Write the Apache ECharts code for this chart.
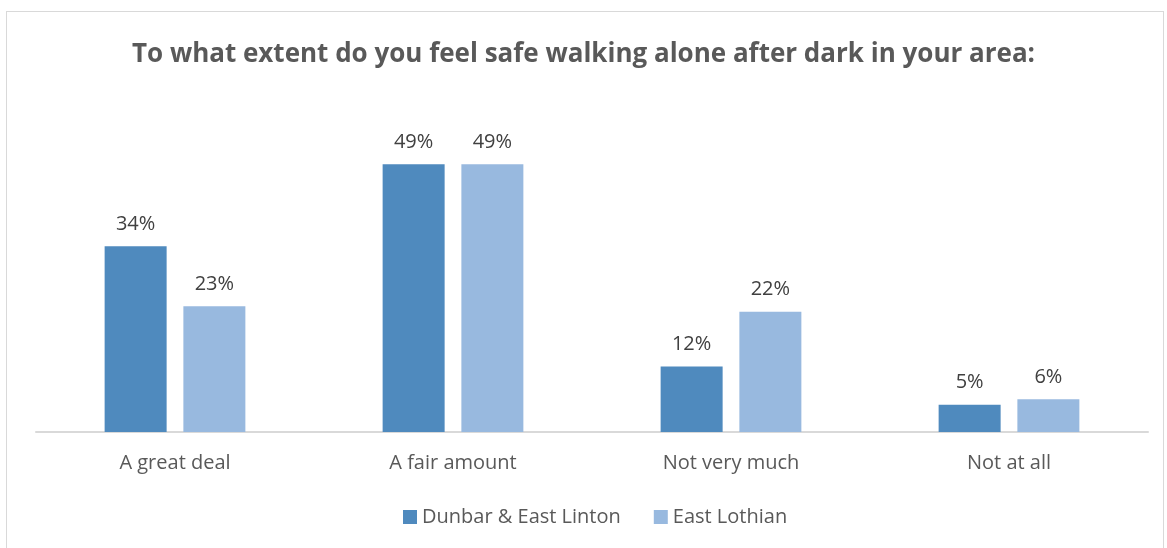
<!DOCTYPE html>
<html>
<head>
<meta charset="utf-8">
<script src="https://cdn.jsdelivr.net/npm/echarts@6/dist/echarts.min.js"></script>
<style>
  html, body { margin: 0; padding: 0; background: #fff; }
  #frame { position: absolute; left: 6px; top: 11px; width: 1158px; height: 560px; border: 1px solid #d9d9d9; box-sizing: border-box; }
  #chart { position: absolute; left: 0; top: 0; width: 1167px; height: 548px; }
</style>
</head>
<body>
<div id="frame"></div>
<div id="chart"></div>
<script>
const categories = ['A great deal', 'A fair amount', 'Not very much', 'Not at all']
const dunbarValues = [34, 49, 12, 5]
const lothianValues = [23, 49, 22, 6]
const seriesNames = ['Dunbar & East Linton', 'East Lothian']

const font = '"Open Sans", "Liberation Sans", sans-serif'
const chart = echarts.init(document.getElementById('chart'))

const labelStyle = {
  show: true,
  position: 'top',
  distance: 12,
  color: '#404040',
  fontSize: 20,
  fontFamily: font,
  formatter: '{c}%'
}

chart.setOption({
  animation: false,
  title: {
    text: 'To what extent do you feel safe walking alone after dark in your area:',
    left: 'center',
    top: 37,
    textStyle: {
      color: '#595959',
      fontSize: 26,
      fontWeight: 'bold',
      fontFamily: font
    }
  },
  legend: {
    left: 398,
    top: 502,
    itemWidth: 14,
    itemHeight: 14,
    itemGap: 33,
    icon: 'rect',
    textStyle: { color: '#595959', fontSize: 20, fontFamily: font },
    data: seriesNames
  },
  grid: {
    top: 104,
    left: 36,
    right: 19,
    bottom: 116
  },
  xAxis: {
    type: 'category',
    data: categories,
    axisTick: { show: false },
    axisLine: { lineStyle: { color: '#d9d9d9', width: 2 } },
    axisLabel: {
      margin: 21,
      color: '#595959',
      fontSize: 20,
      fontFamily: font
    }
  },
  yAxis: {
    type: 'value',
    min: 0,
    max: 60,
    show: false,
    splitLine: { show: false }
  },
  series: [
    {
      name: seriesNames[0],
      type: 'bar',
      barWidth: 62,
      barGap: '27%',
      itemStyle: { color: '#4f8abe' },
      label: labelStyle,
      data: dunbarValues
    },
    {
      name: seriesNames[1],
      type: 'bar',
      barWidth: 62,
      barGap: '27%',
      itemStyle: { color: '#98b9df' },
      label: labelStyle,
      data: lothianValues
    }
  ]
})
</script>
</body>
</html>
